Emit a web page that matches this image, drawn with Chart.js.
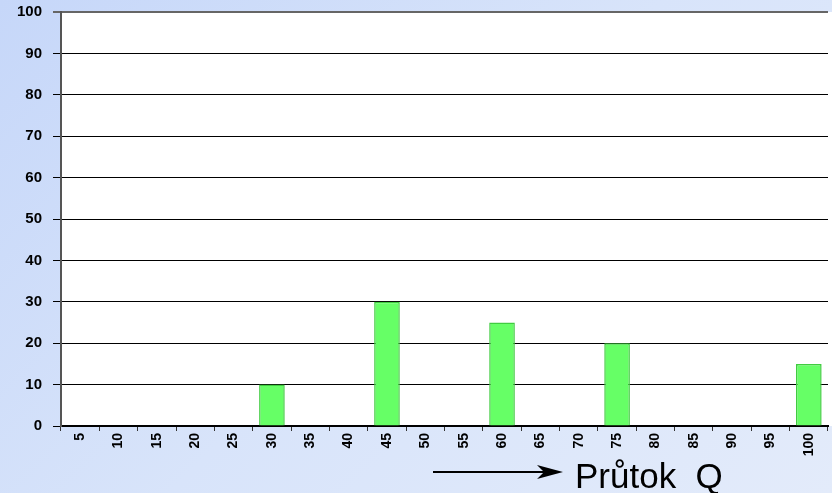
<!DOCTYPE html>
<html>
<head>
<meta charset="utf-8">
<script src="https://cdn.jsdelivr.net/npm/chart.js@4/dist/chart.umd.min.js"></script>
<style>
  html, body { margin: 0; padding: 0; }
  body {
    width: 832px; height: 493px; overflow: hidden; position: relative;
    background: linear-gradient(135deg, #c6d7f9 0%, #d8e4fa 50%, #e3ebfa 100%);
  }
  #wrap { position: absolute; left: 0; top: 0; width: 832px; height: 493px; }
  #axisTitle {
    position: absolute; left: 575px; top: 458px; line-height: 35px;
    font-family: Arial, "Liberation Sans", sans-serif; font-size: 35px; color: #000;
    white-space: pre;
  }
  #arrow { position: absolute; left: 430px; top: 464px; }
</style>
</head>
<body>
<div id="wrap"><canvas id="chart" width="832" height="493"></canvas></div>
<svg id="arrow" width="140" height="18">
  <line x1="3" y1="8" x2="122" y2="8" stroke="#000" stroke-width="2"/>
  <polygon points="107,1 133,8 107,15 114,8" fill="#000"/>
</svg>
<div id="axisTitle">Průtok  Q</div>
<script>
// category labels (flow Q) and counts
const categories = ['5', '10', '15', '20', '25', '30', '35', '40', '45', '50',
                    '55', '60', '65', '70', '75', '80', '85', '90', '95', '100'];
const counts = [0, 0, 0, 0, 0, 10, 0, 0, 30, 0, 0, 25, 0, 0, 20, 0, 0, 0, 0, 15];
const yTicks = [0, 10, 20, 30, 40, 50, 60, 70, 80, 90, 100];

const barColor = '#66ff66';
const barBorder = '#40cc40';

// white plot background, stretched to right edge of window
const plotBg = {
  id: 'plotBg',
  beforeDraw(chart) {
    const { ctx, chartArea } = chart;
    ctx.save();
    ctx.fillStyle = '#ffffff';
    ctx.fillRect(chartArea.left, chartArea.top, chart.width - chartArea.left, chartArea.bottom - chartArea.top);
    ctx.restore();
  }
};

const ctx = document.getElementById('chart').getContext('2d');
new Chart(ctx, {
  type: 'bar',
  data: {
    labels: categories,
    datasets: [{
      data: counts,
      backgroundColor: barColor,
      borderColor: barBorder,
      borderWidth: 1.5,
      barPercentage: 0.76,
      categoryPercentage: 0.88
    }]
  },
  options: {
    responsive: false,
    animation: false,
    layout: { padding: { top: 12, right: 4, bottom: 0, left: 4 } },
    plugins: {
      legend: { display: false },
      tooltip: { enabled: false }
    },
    scales: {
      x: {
        afterFit(axis) { axis.height = 67; },
        grid: {
          drawOnChartArea: false,
          drawTicks: true,
          tickLength: 5,
          color: '#333'
        },
        border: { color: '#000', width: 2 },
        ticks: {
          color: '#000',
          minRotation: 90,
          maxRotation: 90,
          padding: 2,
          font: { family: 'Arial, "Liberation Sans", sans-serif', size: 14, weight: 'bold' }
        }
      },
      y: {
        min: 0,
        max: 100,
        afterFit(axis) {
          axis.width = 57;
          axis.paddingTop = 0;
          axis.paddingBottom = 0;
        },
        afterBuildTicks(axis) {
          axis.ticks = yTicks.map(v => ({ value: v }));
        },
        grid: {
          color: c => (c.tick && c.tick.value === 100 ? '#666' : '#000'),
          lineWidth: c => (c.tick && c.tick.value === 100 ? 2 : 1),
          drawTicks: true,
          tickLength: 8
        },
        border: { color: '#555', width: 2 },
        ticks: {
          color: '#000',
          padding: 11,
          font: { family: 'Arial, "Liberation Sans", sans-serif', size: 15, weight: 'bold' }
        }
      }
    }
  },
  plugins: [plotBg]
});
</script>
</body>
</html>
